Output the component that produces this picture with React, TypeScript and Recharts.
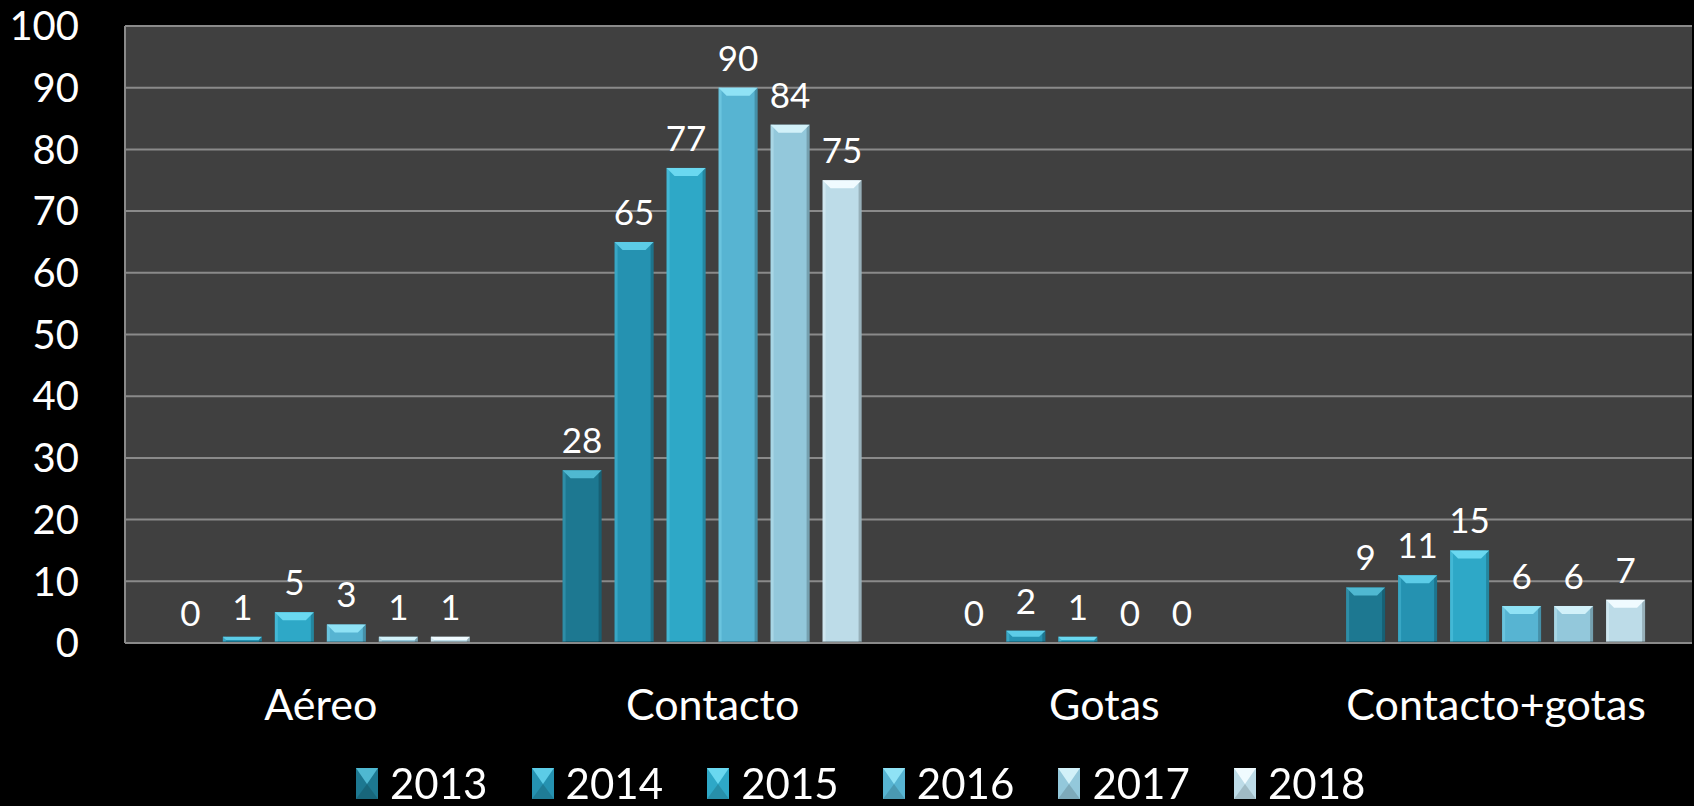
import { BarChart, Bar, XAxis, YAxis, CartesianGrid, LabelList, Legend } from 'recharts';

const categories = ['Aéreo', 'Contacto', 'Gotas', 'Contacto+gotas'];
const years = ['2013', '2014', '2015', '2016', '2017', '2018'];
const v2013 = [0, 28, 0, 9];
const v2014 = [1, 65, 2, 11];
const v2015 = [5, 77, 1, 15];
const v2016 = [3, 90, 0, 6];
const v2017 = [1, 84, 0, 6];
const v2018 = [1, 75, null, 7];
const yTicks = [0, 10, 20, 30, 40, 50, 60, 70, 80, 90, 100];

const seriesValues = [v2013, v2014, v2015, v2016, v2017, v2018];
const baseColors = ['#1d7891', '#2592b1', '#2ea8c7', '#57b4d2', '#93c8db', '#bddce8'];
const lightColors = ['#4fb8d1', '#5ccce7', '#6ad8f0', '#8fe2f5', '#d2f1f9', '#f0fbff'];

const data = categories.map((name, i) => {
  const row: Record<string, string | number | null> = { name };
  years.forEach((y, s) => (row[y] = seriesValues[s][i]));
  return row;
});

const FONT = 'Lato, "Open Sans", sans-serif';

function bevelShape(idx: number) {
  return (props: any) => {
    const { x, y, width, height } = props;
    if (!height || height <= 0) return <g />;
    const b = Math.min(8, height / 2, width / 2);
    const base = baseColors[idx];
    const light = lightColors[idx];
    return (
      <g>
        <rect x={x} y={y} width={width} height={height} fill={base} />
        <rect x={x} y={y} width={3} height={height} fill={light} opacity={0.35} />
        <rect x={x + width - 3} y={y} width={3} height={height} fill="#000" opacity={0.2} />
        <polygon
          points={`${x},${y} ${x + width},${y} ${x + width - b},${y + b} ${x + b},${y + b}`}
          fill={light}
        />
        <rect x={x} y={y + height - 2} width={width} height={2} fill="#000" opacity={0.25} />
      </g>
    );
  };
}

function LegendContent() {
  return (
    <div style={{ height: 50, position: 'relative' }}>
      {years.map((y, i) => (
        <div
          key={y}
          style={{ position: 'absolute', left: 356 + i * 175.6, top: 0, display: 'flex', alignItems: 'center' }}
        >
          <svg width={22} height={31}>
            <rect x={0} y={0} width={22} height={31} fill={baseColors[i]} />
            <polygon points="0,0 22,0 11,16" fill={lightColors[i]} />
            <polygon points="0,31 22,31 11,16" fill="#000" opacity={0.15} />
          </svg>
          <span style={{ marginLeft: 12, color: '#fff', fontSize: 42, fontFamily: FONT, lineHeight: '46px' }}>{y}</span>
        </div>
      ))}
    </div>
  );
}

export default function App() {
  return (
    <div style={{ position: 'fixed', left: 0, top: 0, width: 1694, height: 806, background: '#000' }}>
      <BarChart
        width={1694}
        height={806}
        data={data}
        margin={{ top: 26, right: 2, bottom: 0, left: 0 }}
        barCategoryGap="11.7%"
        barGap={13}
      >
        <CartesianGrid vertical={false} stroke="#8a8a8a" strokeWidth={2} fill="#404040" />
        <XAxis
          dataKey="name"
          height={113}
          tickLine={false}
          tickMargin={40}
          axisLine={{ stroke: '#8a8a8a', strokeWidth: 2 }}
          tick={{ fill: '#fff', fontSize: 43, fontFamily: FONT }}
        />
        <YAxis
          width={125}
          domain={[0, 100]}
          ticks={yTicks}
          interval={0}
          tickLine={false}
          tickMargin={40}
          axisLine={{ stroke: '#8a8a8a', strokeWidth: 2 }}
          tick={{ fill: '#fff', fontSize: 40, fontFamily: FONT }}
        />
        <Legend
          verticalAlign="bottom"
          content={<LegendContent />}
          wrapperStyle={{ left: 0, bottom: -4, width: 1694, height: 50 }}
        />
        {years.map((y, i) => (
          <Bar key={y} dataKey={y} fill={baseColors[i]} isAnimationActive={false} shape={bevelShape(i)}>
            <LabelList dataKey={y} position="top" offset={17} fill="#fff" fontSize={35} fontFamily={FONT} />
          </Bar>
        ))}
      </BarChart>
    </div>
  );
}
